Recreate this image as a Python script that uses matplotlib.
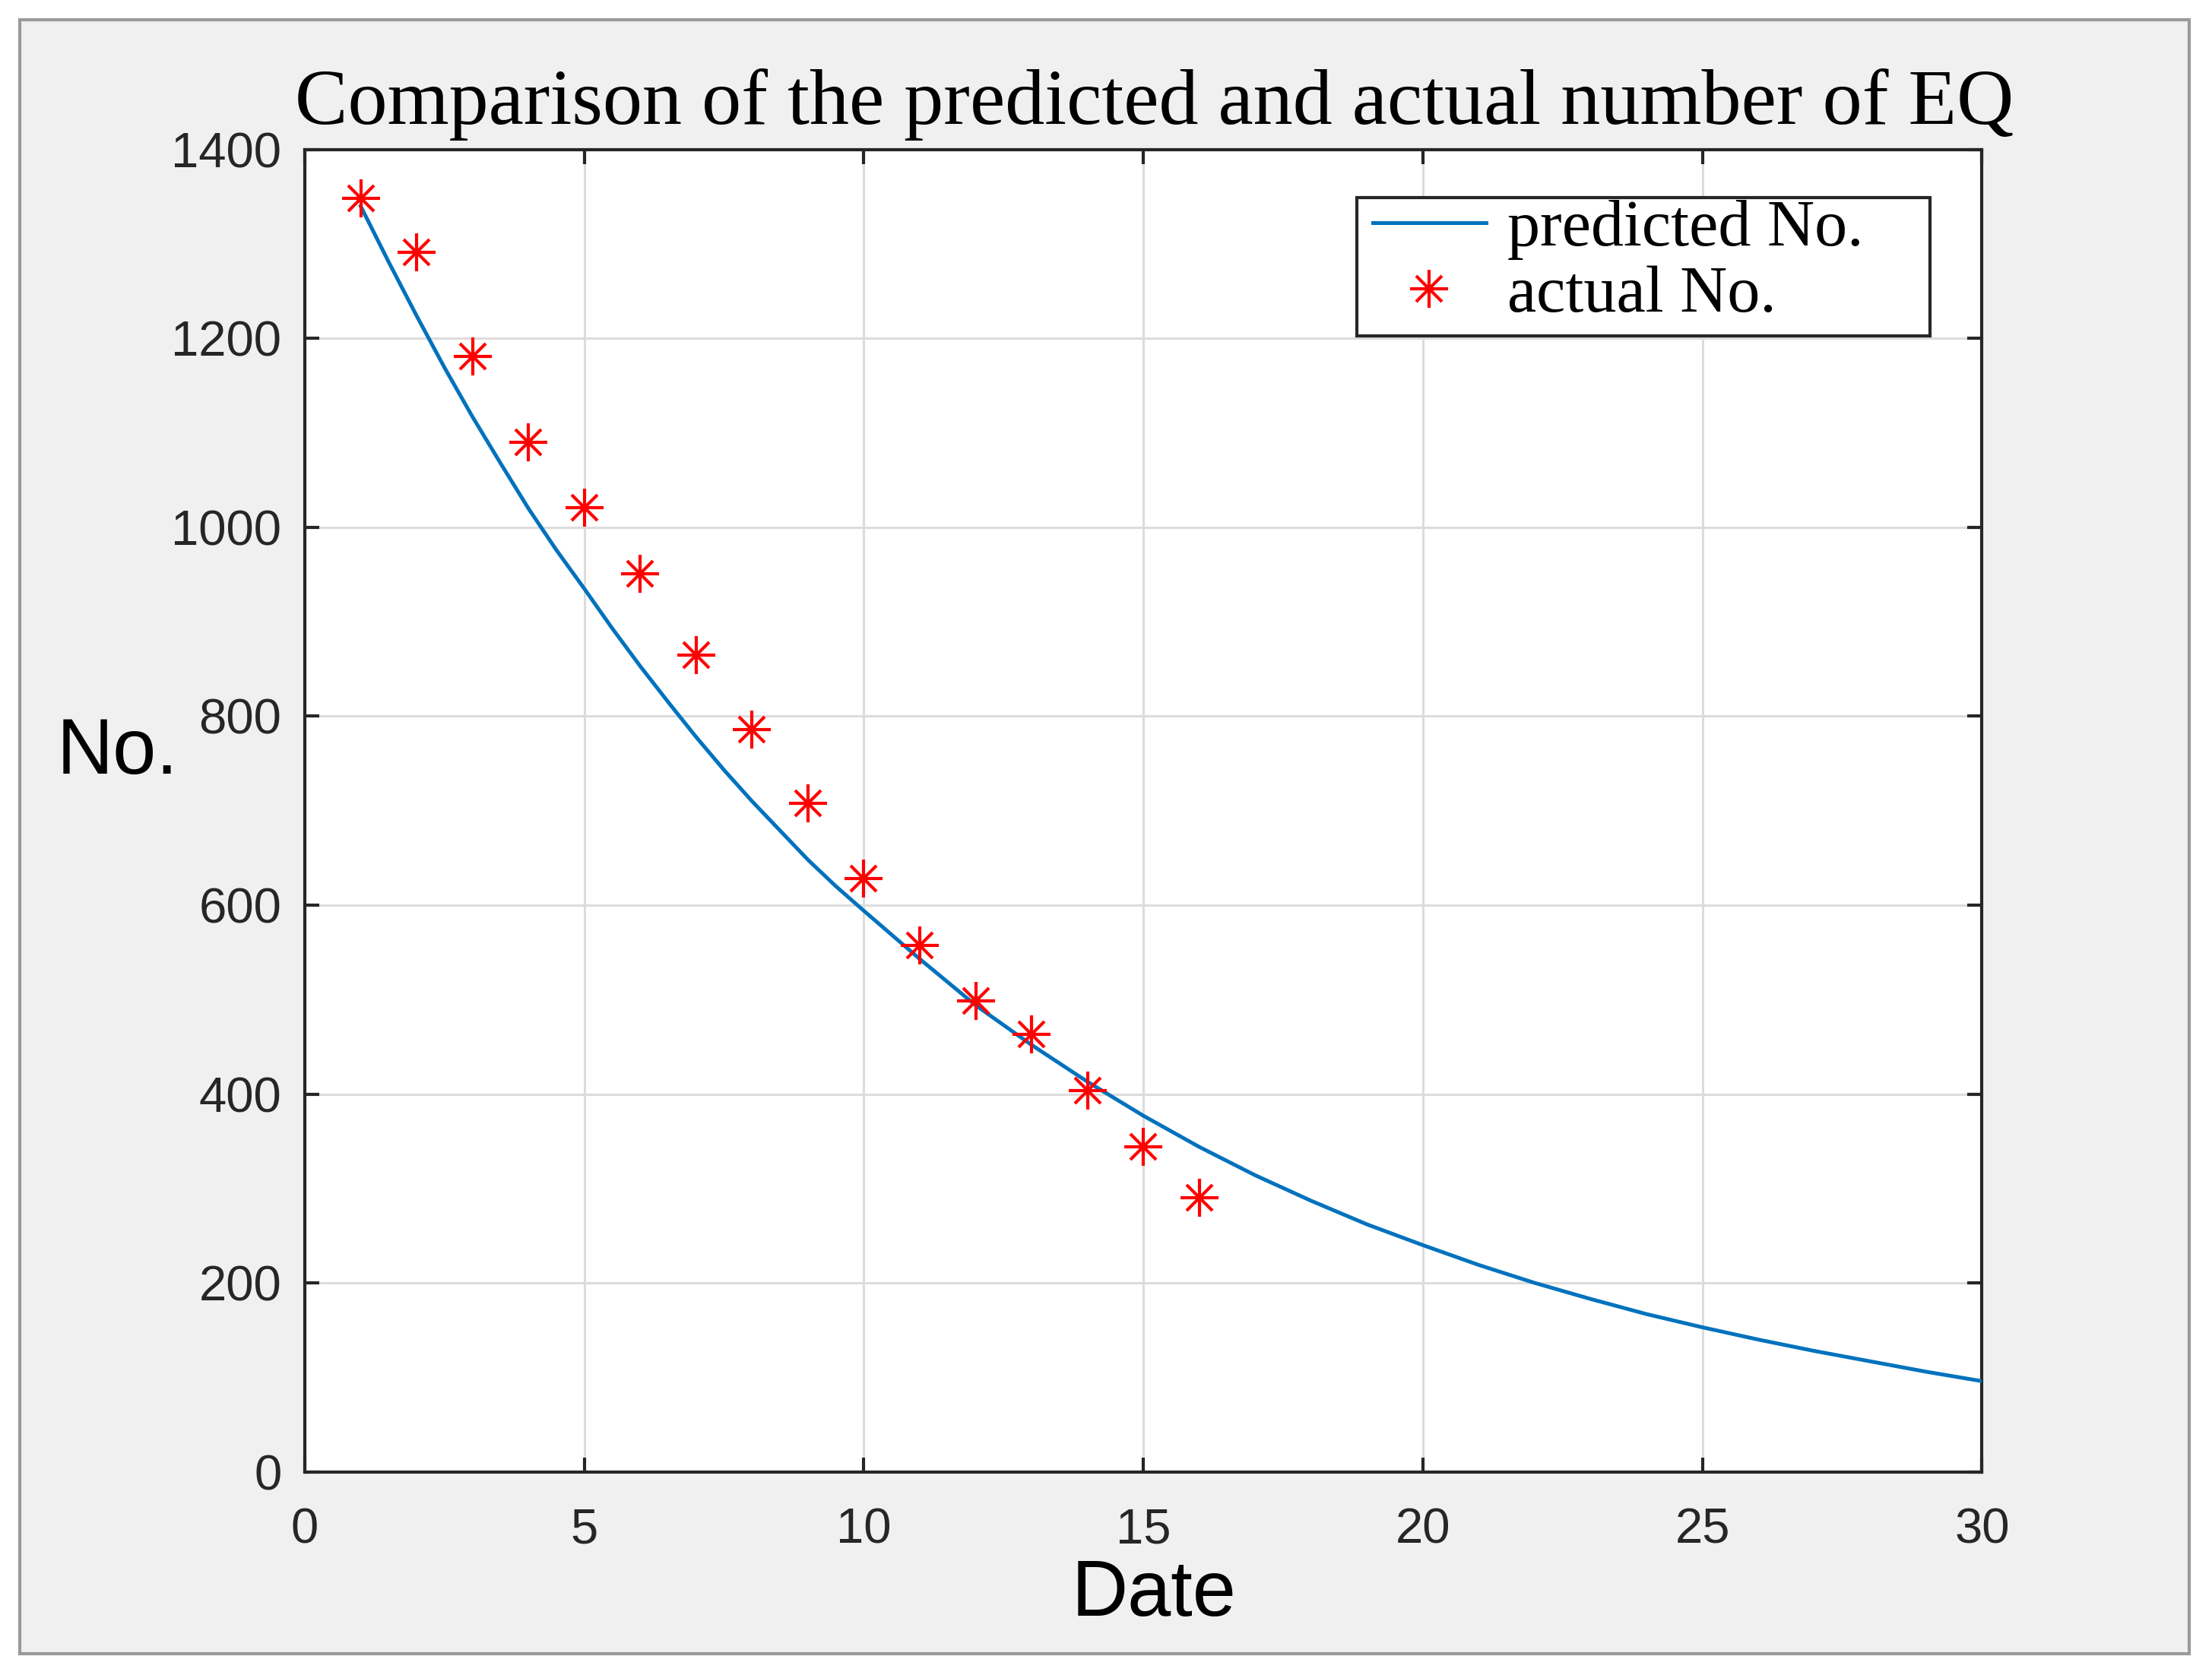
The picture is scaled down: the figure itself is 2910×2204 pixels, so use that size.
import matplotlib
matplotlib.use("Agg")
import matplotlib.pyplot as plt
from matplotlib.patches import Rectangle
from matplotlib.lines import Line2D
from matplotlib.legend_handler import HandlerTuple

# ---- data ----
pred_days = [1, 1.5, 2, 2.5, 3, 3.5, 4, 4.5, 5, 5.5, 6, 6.5, 7, 7.5, 8, 8.5, 9, 9.5, 10,
             11, 12, 13, 14, 15, 16, 17, 18, 19, 20,
             21, 22, 23, 24, 25, 26, 27, 28, 29, 30]
pred_values = [1340, 1281, 1224, 1169, 1117, 1068, 1020, 976, 935, 893, 853, 815, 778, 743,
               710, 679, 648, 620, 594,
               543, 494, 452, 413, 377, 344, 314, 287, 262, 240,
               219, 200, 183, 167, 153, 140, 128, 117, 106, 96]
act_days = list(range(1, 17))
act_values = [1348, 1291, 1181, 1090, 1021, 951, 865, 786, 708, 628,
              557, 499, 463, 404, 344, 290]
x_ticks = [0, 5, 10, 15, 20, 25, 30]
y_ticks = [0, 200, 400, 600, 800, 1000, 1200, 1400]
title_text = "Comparison of the predicted and actual number of EQ"
legend_labels = ["predicted No.", "actual No."]

W, H = 2910, 2204
fig = plt.figure(figsize=(W / 100, H / 100), dpi=100, facecolor="white")

# window-like background with border
bg = Rectangle((14 / 1568, 1 - 1172 / 1187), (1552 - 14) / 1568,
               (1172 - 14) / 1187, transform=fig.transFigure,
               facecolor="#f0f0f0", edgecolor="#9a9a9a", lw=3, zorder=-10)
fig.patches.append(bg)

ax = fig.add_axes([0.1378, 0.1213, 0.8960 - 0.1378, 0.9107 - 0.1213])
ax.set_zorder(1)
ax.set_facecolor("white")

blue = "#0072BD"
red = "#FF0000"
ms_plus, ms_x, mew = 36, 25, 3.0
lw_line = 3.6
ax.plot(pred_days, pred_values, color=blue, lw=lw_line, zorder=3)
ax.plot(act_days, act_values, ls="none", marker="+", ms=ms_plus, mew=mew, color=red, zorder=4)
ax.plot(act_days, act_values, ls="none", marker="x", ms=ms_x, mew=mew, color=red, zorder=4)

ax.set_xlim(0, 30)
ax.set_ylim(0, 1400)
ax.set_xticks(x_ticks)
ax.set_yticks(y_ticks)
ax.grid(True, color="#dcdcdc", lw=2.2)
ax.set_axisbelow(True)
for s in ax.spines.values():
    s.set_linewidth(3)
    s.set_color("#262626")
ax.tick_params(direction="in", length=14, width=3, color="#262626",
               top=True, right=True, labelsize=47, labelcolor="#262626")
ax.tick_params(axis="y", pad=22)
ax.tick_params(axis="x", pad=34)
for lab in ax.get_xticklabels() + ax.get_yticklabels():
    lab.set_fontfamily("Liberation Sans")

fig.text(0.522, 0.926, title_text, ha="center", va="baseline",
         fontsize=75, family="Liberation Serif", color="black")
fig.text(0.0255, 0.538, "No.", ha="left", va="baseline",
         fontsize=74, family="Liberation Sans", color="black")
fig.text(0.5217, 0.0354, "Date", ha="center", va="baseline",
         fontsize=74, family="Liberation Sans", color="black")

# legend frame (drawn separately to match the reference box)
ax.add_patch(Rectangle((0.6274, 0.859), 0.9689 - 0.6274, 0.9638 - 0.859,
                       transform=ax.transAxes, facecolor="white", edgecolor="#262626",
                       lw=3, zorder=9, clip_on=False))

h_line = Line2D([], [], color=blue, lw=lw_line)
h_plus = Line2D([], [], ls="none", marker="+", ms=ms_plus, mew=mew, color=red)
h_x = Line2D([], [], ls="none", marker="x", ms=ms_x, mew=mew, color=red)
leg = ax.legend([h_line, (h_plus, h_x)], legend_labels,
                handler_map={tuple: HandlerTuple(ndivide=1, pad=0)},
                loc="upper left", bbox_to_anchor=(0.6367, 0.962), borderaxespad=0,
                frameon=False,
                prop={"family": "Liberation Serif", "size": 62},
                handlelength=1.73, handletextpad=0.33, labelspacing=0.08,
                borderpad=0)
leg.set_zorder(10)

fig.savefig("out.png", dpi=100, facecolor="white")
